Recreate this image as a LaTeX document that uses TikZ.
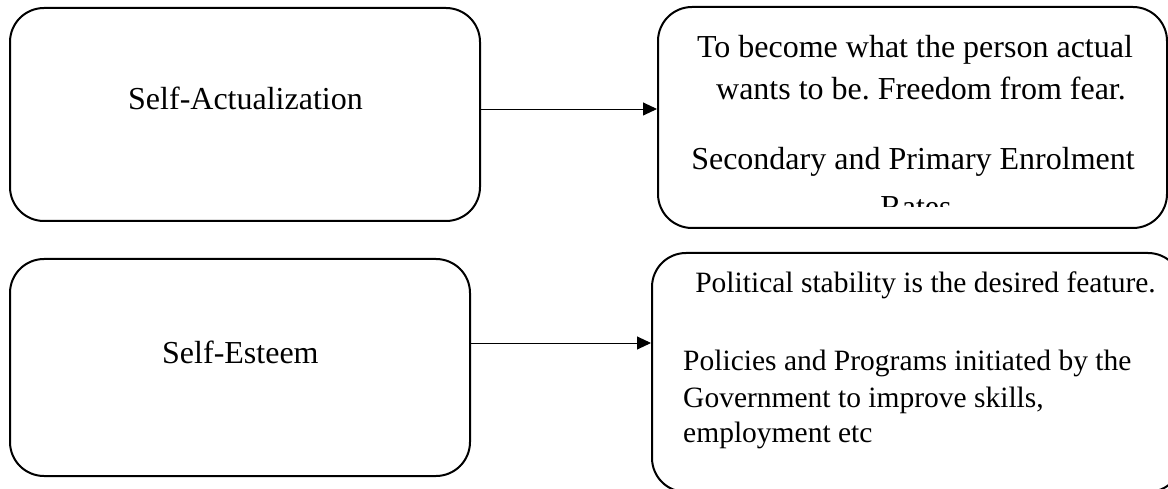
\documentclass[tikz,border=0pt]{standalone}
\usepackage{fontspec}
\setmainfont{Liberation Serif}
\usetikzlibrary{arrows.meta}
\frenchspacing
\begin{document}
\begin{tikzpicture}[x=1pt,y=-1pt,
  box/.style={draw=black,line width=2pt,rounded corners=34pt,inner sep=0pt},
  arr/.style={line width=0.9pt,-{Triangle[length=14pt,width=13pt]}},
  big/.style={font=\fontsize{32}{38}\selectfont,inner sep=0pt},
  mid/.style={font=\fontsize{29.5}{36}\selectfont,inner sep=0pt}]
\useasboundingbox (0,0) rectangle (1168,489);
\clip (0,0) rectangle (1168,489);
% boxes
\node[box,minimum width=470pt,minimum height=213pt] (sa) at (245,114.5) {};
\node[box,minimum width=460pt,minimum height=217pt] (se) at (240,367.5) {};
\node[box,minimum width=509pt,minimum height=221pt] (r1) at (912.5,117.5) {};
\node[box,minimum width=530pt,minimum height=239pt] (r2) at (917,372.5) {};
% left texts
\node[big,anchor=base west] (tsa) at (128,110) {Self-Actualization};
\node[big,anchor=base west] (tse) at (162,363) {Self-Esteem};
% right box 1 texts
\node[big,anchor=base] (l1) at (915,58) {To become what the person actual};
\node[big,anchor=base] (l2) at (921,100) {wants to be. Freedom from fear.};
\node[big,anchor=base] (l3) at (913,170) {Secondary and Primary Enrolment};
\begin{scope}
\clip (650,0) rectangle (1168,207);
\node[big,anchor=base] (l4) at (916,218) {Rates};
\end{scope}
% right box 2 texts
\node[mid,anchor=base] (m1) at (925.5,293) {Political stability is the desired feature.};
\node[mid,anchor=base west] (m2) at (683,370) {Policies and Programs initiated by the};
\node[mid,anchor=base west] (m3) at (683,407) {Government to improve skills,};
\node[mid,anchor=base west] (m4) at (683,442) {employment etc};
% connectors
\coordinate (a1) at ([yshift=5.5pt]sa.east);
\coordinate (a2) at ([yshift=24.5pt]se.east);
\draw[arr] (a1) -- (a1 -| r1.west);
\draw[arr] (a2) -- (a2 -| r2.west);
\end{tikzpicture}
\end{document}
